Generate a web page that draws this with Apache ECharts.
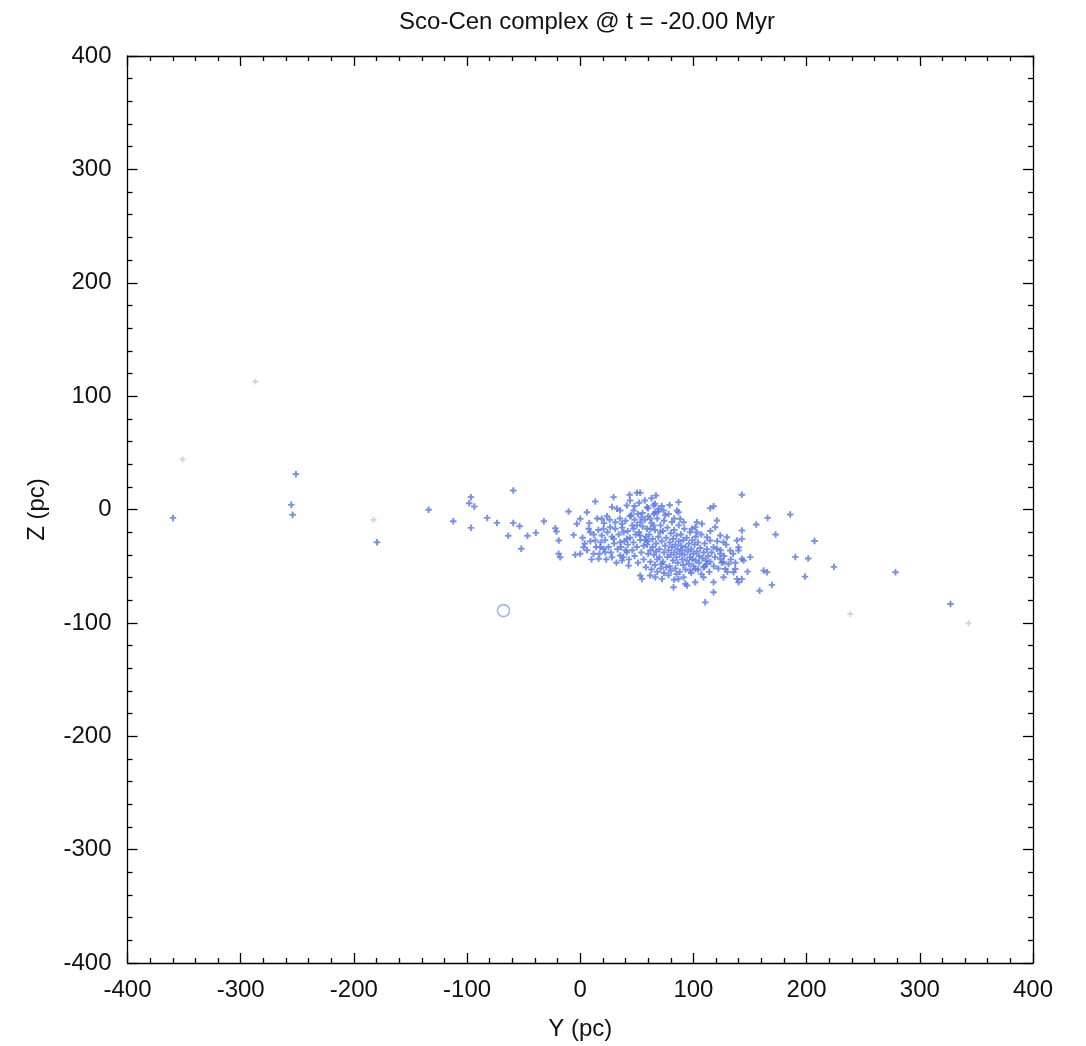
<!DOCTYPE html>
<html>
<head>
<meta charset="utf-8">
<script src="https://cdn.jsdelivr.net/npm/echarts@6/dist/echarts.min.js"></script>
<style>
  html, body { margin: 0; padding: 0; background: #fff; }
  #main { width: 1086px; height: 1046px; }
</style>
</head>
<body>
<div id="main"></div>
<script>
// axis ticks
const tickValues = [-400, -300, -200, -100, 0, 100, 200, 300, 400];

// stars far from the main clump, [Y, Z] in pc
const outerStars = [
    [-359.8, -7.4], [-251.2, 31.2], [-255.3, 4.1], [-254.1, -4.7], [-179.6, -28.9],
    [-134, -0.3], [-112.2, -10.3], [-96.6, 10.9], [-98.1, 5.6], [-93.6, 2.7],
    [-96.6, -16.2], [-82.2, -7.4], [-73.6, -11.8], [-59.2, 16.8], [-59.2, -11.8],
    [-53.6, -14.7], [-63.6, -23.2], [-46.6, -23.2], [-52.1, -34.7], [-39.2, -20.6],
    [-32.1, -10.3], [185.5, -4.4], [207, -27.7], [190, -41.8], [201.4, -43.3],
    [198.5, -59.2], [224.1, -50.6], [278.5, -55.4], [327.1, -83.3], [165.5, -7.4],
    [155.5, -13.3], [172.6, -22], [142.8, 13], [162, -53.9], [165, -55.4],
    [169.3, -66.5], [158.4, -71.6], [150.2, -42], [110.4, -81.9], [117.8, -73]
];

// main clump
const coreStars = [
    [-22, -16.5], [-21, -19.4], [-19, -27.4], [-5.9, -22.4], [-3, -12.6], [0, -8.2],
    [5.9, -2.4], [-10.3, -1.8], [13.3, 7], [7.4, -17], [8.8, -20], [19, -8.2],
    [20.6, -17], [26.5, -15.6], [23.6, -6], [28, 2.1], [29.4, 10.9], [32.4, 0.6],
    [35.3, -0.9], [30.9, -11.2], [36.8, -12.6], [41.2, 3.5], [47.1, -0.9], [43.6, 13],
    [50, 14.7], [53, 14.7], [58.9, 2], [64.8, 3.5], [69.2, 0.6], [66.3, -2.4],
    [73.6, -0.9], [66.9, 12.4], [13.3, -27.4], [19, -23], [35.3, -28.9], [41.2, -25.9],
    [53, -23], [58.9, -17], [64.8, -14.1], [70.7, -20], [53, -11.2], [61.8, -8.2],
    [47.1, -17], [38.3, -20], [29.5, -25.9],
    [-19.1, -39], [-17.7, -42.1], [-4.4, -40], [0, -39], [2.9, -33.3], [11.8, -39],
    [16.2, -43.5], [22.1, -37.7], [28, -42.1], [35.3, -40.6], [41.2, -37.7], [36.8, -45],
    [42.7, -49.5], [53, -58.3], [54.5, -61.2], [61.8, -58.3], [66.3, -59.8], [72.2, -61.2],
    [17.7, -33.3], [20.6, -34.7],
    [86.8, 6.5], [85.4, -0.9], [86.8, -2.4], [114.8, 1.2], [117.8, 2.9], [120.7, -9.7],
    [119.3, -15.6], [103, -11.2], [107.5, -12.6], [101.6, -15.6], [98.6, -17], [103, -20],
    [88.3, -8.2], [91.3, -11.2], [142.8, -18.6], [142.8, -25.9], [138.4, -27.4], [123.7, -23],
    [129.6, -24.5], [126.6, -28.9], [111.9, -24.5], [114.8, -27.4], [117.8, -33.3], [139.8, -33.3],
    [142.8, -43.5], [144.3, -45], [147.8, -54.8], [139.9, -64.2], [142.8, -61.2], [138.4, -61.2],
    [132.5, -36.2], [139.8, -36.2], [136.9, -52.4], [135.4, -55.4], [126.6, -59.8], [128.1, -52.4],
    [123.7, -43.5], [126.6, -46.4], [131, -48], [117.8, -64.2], [108.9, -59.8], [101.6, -64.2],
    [92.8, -65.6], [94.3, -67.1], [82.4, -68.6], [86.8, -61.2], [91.3, -59.8], [108.9, -51],
    [111.9, -48], [97.2, -53.9], [101.6, -52.4], [120.7, -34.7], [123.7, -39],
    [45, -5], [48, -9], [50, -14], [52, -20], [55, -3], [57, -27], [59, -31], [60, -6],
    [61, -22], [62, -36], [63, -12], [64, -26], [65, -40], [66, -18], [67, -30], [68, -8],
    [68, -44], [69, -24], [70, -35], [71, -14], [72, -28], [72, -48], [73, -19], [74, -38],
    [75, -5], [75, -32], [76, -25], [77, -42], [77, -16], [78, -36], [79, -29], [79, -50],
    [80, -21], [80, -40], [81, -11], [81, -33], [82, -45], [82, -26], [83, -38], [83, -18],
    [84, -31], [84, -52], [85, -42], [85, -23], [86, -35], [86, -47], [87, -28], [87, -14],
    [88, -39], [88, -55], [89, -32], [89, -22], [90, -44], [90, -36], [91, -27], [91, -49],
    [92, -40], [92, -17], [93, -33], [93, -53], [94, -45], [94, -25], [95, -37], [96, -30],
    [96, -48], [97, -42], [97, -20], [98, -35], [98, -56], [99, -27], [99, -44], [100, -39],
    [100, -50], [101, -31], [102, -45], [102, -24], [103, -37], [104, -53], [104, -29], [105, -41],
    [105, -47], [106, -34], [107, -22], [107, -57], [108, -43], [109, -38], [110, -30], [110, -50],
    [111, -45], [112, -35], [113, -41], [114, -55], [115, -19], [115, -46], [116, -38], [118, -50],
    [119, -42], [121, -28], [122, -52], [124, -36], [125, -47], [127, -41], [129, -31], [130, -55],
    [133, -44], [135, -39], [137, -47],
    [2, -25], [4, -30], [6, -36], [8, -12], [9, -28], [10, -44], [12, -22], [14, -33],
    [15, -8], [16, -18], [17, -39], [18, -29], [21, -12], [22, -27], [23, -44], [24, -20],
    [25, -33], [26, -9], [27, -38], [28, -24], [30, -30], [31, -17], [32, -47], [33, -35],
    [34, -22], [35, -8], [36, -33], [37, -16], [38, -42], [39, -28], [40, -10], [40, -36],
    [42, -19], [42, -31], [43, -44], [44, -25], [44, -6], [46, -36], [46, -14], [47, -29],
    [48, -41], [49, -22], [50, -33], [51, -4], [51, -47], [53, -27], [54, -38], [55, -15],
    [56, -44], [56, -32], [57, -9], [58, -24], [58, -51], [60, -39], [60, -28], [62, -46],
    [62, -17], [63, -53], [64, -33], [65, -4], [66, -49], [67, -37], [68, -55], [70, -42],
    [71, -52], [73, -46], [74, -56], [76, -51], [78, -58], [80, -54], [83, -62], [85, -57],
    [52, 6], [57, 8], [60, 1], [63, 10], [66, 5], [69, -2], [72, 3], [54, -7],
    [74, -10], [78, -4], [79, 4], [83, -8], [48, 3], [44, 8]
];

// very pale markers
const faintStars = [
    [-287, 112.8], [-351.3, 44.2], [-182.6, -9.1], [238.5, -92.1], [343, -100.4]
];

// open circle marker
const ringMarker = [[-67.8, -89.2]];

const plusPath = 'path://M3.5,0H6.5V3.5H10V6.5H6.5V10H3.5V6.5H0V3.5H3.5Z';
const font = 'Liberation Sans, Arial, Helvetica, sans-serif';

function makeAxis(pos, isX, main) {
    const ax = {
        type: 'value',
        position: pos,
        min: -400,
        max: 400,
        interval: 100,
        splitLine: { show: false },
        axisLine: { show: true, onZero: false, lineStyle: { color: '#000', width: 1.3 } },
        axisTick: { show: true, inside: true, length: 10, lineStyle: { color: '#000', width: 1.3 } },
        minorTick: { show: true, splitNumber: 5, length: 5, lineStyle: { color: '#000', width: 1.3 } },
        axisLabel: {
            show: main,
            color: '#111',
            fontSize: 24,
            fontFamily: font,
            margin: isX ? 15 : 16,
            customValues: tickValues,
            showMinLabel: true,
            showMaxLabel: true
        }
    };
    if (main) {
        ax.name = isX ? 'Y (pc)' : 'Z (pc)';
        ax.nameLocation = 'middle';
        ax.nameGap = isX ? 54 : 78;
        ax.nameTextStyle = { color: '#111', fontSize: 24, fontFamily: font };
    }
    return ax;
}

const chart = echarts.init(document.getElementById('main'));
chart.setOption({
    animation: false,
    backgroundColor: '#fff',
    title: {
        text: 'Sco-Cen complex @ t = -20.00 Myr',
        left: 582,
        top: 5,
        textAlign: 'center',
        textStyle: { color: '#111', fontSize: 24, fontWeight: 'normal', fontFamily: font }
    },
    grid: { left: 127.5, right: 53, top: 56, bottom: 83 },
    xAxis: [makeAxis('bottom', true, true), makeAxis('top', true, false)],
    yAxis: [makeAxis('left', false, true), makeAxis('right', false, false)],
    series: [
        {
            type: 'scatter',
            data: faintStars,
            symbol: plusPath,
            symbolSize: 6,
            itemStyle: { color: '#c9c4e2' }
        },
        {
            type: 'scatter',
            data: outerStars,
            symbol: plusPath,
            symbolSize: 6.5,
            itemStyle: { color: '#5574e4' }
        },
        {
            type: 'scatter',
            data: coreStars,
            symbol: plusPath,
            symbolSize: 6.5,
            itemStyle: { color: '#5574e4' }
        },
        {
            type: 'scatter',
            data: ringMarker,
            symbol: 'circle',
            symbolSize: 12,
            itemStyle: { color: 'rgba(0,0,0,0)', borderColor: '#86a4f0', borderWidth: 1.6 }
        }
    ]
});
</script>
</body>
</html>
